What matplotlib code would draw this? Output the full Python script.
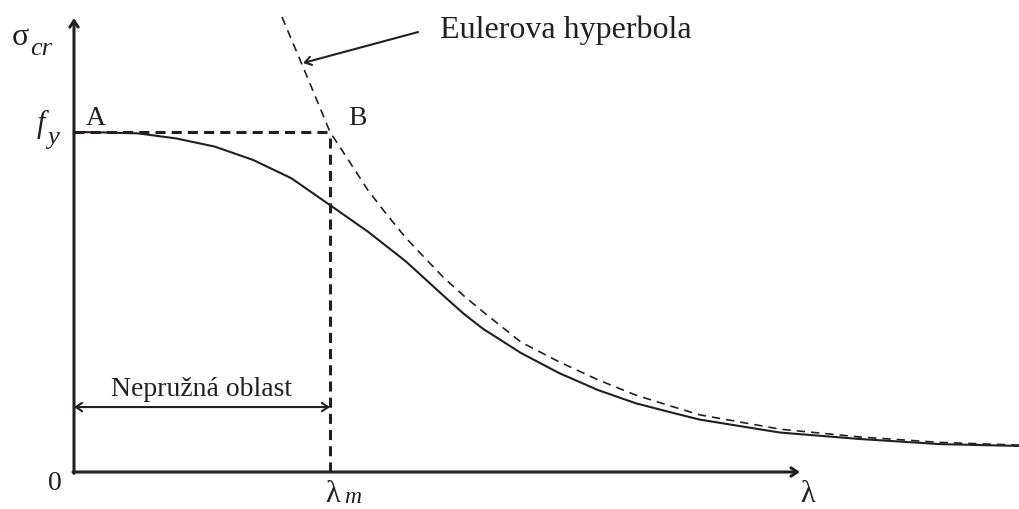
import matplotlib.pyplot as plt

plt.rcParams['font.family'] = ['Liberation Serif', 'DejaVu Serif']

INK = '#231f20'

# slenderness and stress, both normalised (lambda / lambda_m, sigma / f_y)
lam_m = 1.0
f_y = 1.0
lam_axis_end = 2.836
sigma_axis_end = 1.335

# buckling curve (solid)
curve_lam = [0.0, 0.102, 0.250, 0.400, 0.550, 0.699, 0.849, 1.000, 1.148, 1.297,
             1.447, 1.523, 1.598, 1.746, 1.895, 2.047, 2.195, 2.344, 2.445, 2.758,
             3.070, 3.383, 3.695]
curve_sigma = [1.0, 0.999, 0.996, 0.981, 0.957, 0.918, 0.864, 0.785, 0.707, 0.619,
               0.516, 0.465, 0.421, 0.350, 0.291, 0.241, 0.202, 0.173, 0.154, 0.116,
               0.097, 0.082, 0.0765]

# Euler hyperbola (dashed)
euler_lam = [0.8125, 0.906, 1.0, 1.074, 1.148, 1.223, 1.297, 1.371, 1.445, 1.523,
             1.598, 1.746, 1.895, 2.047, 2.195, 2.344, 2.445, 2.758, 3.070, 3.383,
             3.695]
euler_sigma = [1.338, 1.171, 1.0, 0.915, 0.829, 0.756, 0.688, 0.629, 0.571, 0.518,
               0.471, 0.382, 0.324, 0.271, 0.226, 0.191, 0.168, 0.126, 0.103, 0.087,
               0.079]

inelastic_y = 0.191

fig = plt.figure(figsize=(10.2, 5.09), dpi=100)
ax = fig.add_axes([0, 0, 1, 1])
ax.set_xlim(-74 / 256, 946 / 256)
ax.set_ylim(-37 / 340, 472 / 340)
ax.axis('off')

# axes with arrows
axis_arrow = dict(arrowstyle='->,head_length=0.45,head_width=0.3', lw=2.2,
                  color=INK, shrinkA=0, shrinkB=0)
ax.annotate('', xy=(lam_axis_end, 0), xytext=(-0.004, 0), arrowprops=axis_arrow)
ax.annotate('', xy=(0, sigma_axis_end), xytext=(0, -0.004), arrowprops=axis_arrow)

# f_y level and lambda_m limit
ax.plot([0, lam_m], [f_y, f_y], color=INK, lw=2.2, dashes=(3.3, 2.0))
ax.plot([lam_m, lam_m], [0, f_y], color=INK, lw=2.2, dashes=(3.3, 2.0))

# curves
ax.plot(euler_lam, euler_sigma, color=INK, lw=1.2, dashes=(5, 3.6),
        dash_joinstyle='round')
ax.plot(curve_lam, curve_sigma, color=INK, lw=1.5, solid_joinstyle='round')

# inelastic range
ax.annotate('', xy=(0, inelastic_y), xytext=(lam_m, inelastic_y),
            arrowprops=dict(arrowstyle='<->,head_length=0.45,head_width=0.3',
                            lw=1.5, color=INK, shrinkA=0, shrinkB=0))
ax.text(0.5, 0.2235, 'Nepružná oblast', ha='center', va='baseline',
        fontsize=20, color=INK)

# Euler label with pointer
ax.annotate('', xy=(0.895, 1.203), xytext=(1.344, 1.294),
            arrowprops=dict(arrowstyle='->,head_length=0.45,head_width=0.3',
                            lw=1.5, color=INK, shrinkA=0, shrinkB=0))
ax.text(1.43, 1.276, 'Eulerova hyperbola', ha='left', va='baseline',
        fontsize=23, color=INK)

# point labels
ax.text(0.047, 1.0206, 'A', ha='left', va='baseline', fontsize=20, color=INK)
ax.text(1.07, 1.0206, 'B', ha='left', va='baseline', fontsize=20, color=INK)

# axis labels
ax.text(-0.242, 1.256, 'σ', ha='left', va='baseline', fontsize=23, color=INK)
ax.text(-0.172, 1.226, 'cr', ha='left', va='baseline', fontsize=19,
        style='italic', color=INK)
ax.text(-0.145, 1.0, 'f', ha='left', va='baseline', fontsize=22,
        style='italic', color=INK)
ax.text(-0.103, 0.966, 'y', ha='left', va='baseline', fontsize=19,
        style='italic', color=INK)
ax.text(-0.074, -0.053, '0', ha='center', va='baseline', fontsize=20, color=INK)
ax.text(0.98, -0.088, 'λ', ha='left', va='baseline', fontsize=22, color=INK)
ax.text(1.055, -0.091, 'm', ha='left', va='baseline', fontsize=17,
        style='italic', color=INK)
ax.text(2.836, -0.088, 'λ', ha='left', va='baseline', fontsize=22, color=INK)

fig.savefig('out.png', dpi=100)
